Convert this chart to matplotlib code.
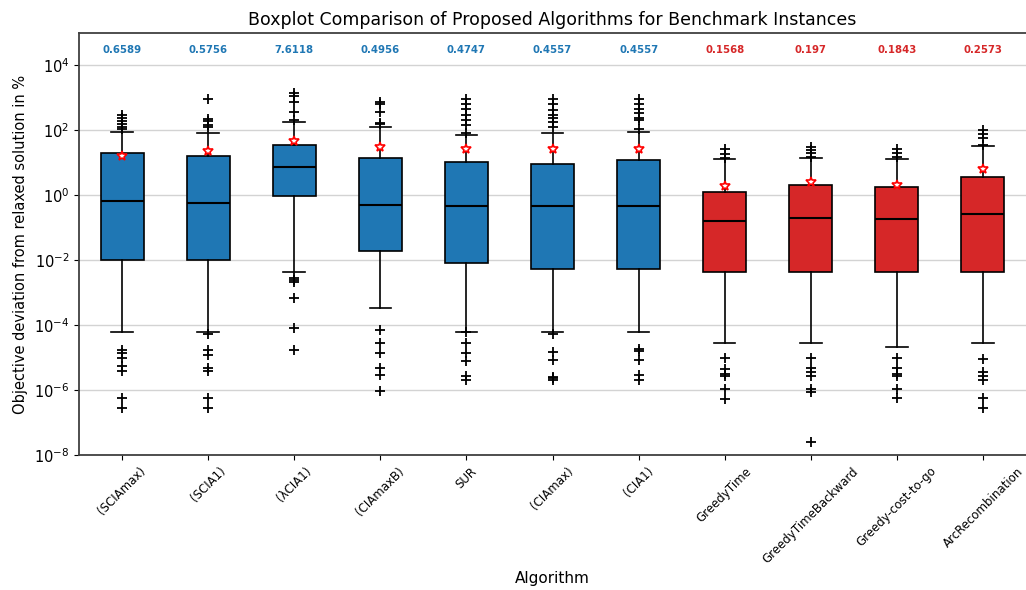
import matplotlib
matplotlib.use("Agg")
import matplotlib.pyplot as plt
from matplotlib.ticker import NullLocator

algorithms = ["(SCIAmax)", "(SCIA1)", "(λCIA1)", "(CIAmaxB)", "SUR", "(CIAmax)", "(CIA1)",
              "GreedyTime", "GreedyTimeBackward", "Greedy-cost-to-go", "ArcRecombination"]
group = ["blue"] * 7 + ["red"] * 4

medians = [0.6589, 0.5756, 7.6118, 0.4956, 0.4747, 0.4557, 0.4557, 0.1568, 0.197, 0.1843, 0.2573]
median_labels = ["0.6589", "0.5756", "7.6118", "0.4956", "0.4747", "0.4557", "0.4557",
                 "0.1568", "0.197", "0.1843", "0.2573"]
q1 = [0.0102, 0.0101, 0.95, 0.019, 0.0083, 0.0055, 0.0055, 0.0044, 0.0044, 0.0044, 0.0044]
q3 = [19.8, 16.2, 34.6, 14.4, 10.6, 9.4, 11.9, 1.26, 2.13, 1.8, 3.66]
whisker_low = [6.3e-5, 6.0e-5, 0.0044, 3.4e-4, 6.3e-5, 6.3e-5, 6.3e-5, 2.9e-5, 2.9e-5, 2.1e-5, 2.9e-5]
whisker_high = [88, 83, 180, 130, 72, 83, 91, 13.5, 14, 13.5, 32]
means = [16.5, 23, 46, 31.5, 26, 26, 26, 1.93, 2.56, 2.03, 6.3]

outliers = [
    [290, 234, 189, 153, 123, 107, 1.7e-5, 1.4e-5, 9.6e-6, 5.5e-6, 3.8e-6, 5.8e-7, 2.9e-7],
    [950, 218, 189, 150, 126, 5.5e-5, 1.7e-5, 1.2e-5, 4.9e-6, 3.9e-6, 5.8e-7, 2.9e-7],
    [1400, 1110, 745, 365, 203, 0.0029, 0.0025, 0.0022, 6.9e-4, 7.9e-5, 1.7e-5],
    [745, 630, 365, 167, 160, 7.0e-5, 2.9e-5, 1.35e-5, 4.7e-6, 3.0e-6, 9.3e-7],
    [900, 665, 443, 303, 214, 142, 83, 6.0e-5, 2.9e-5, 1.35e-5, 8.0e-6, 2.7e-6, 2.1e-6],
    [900, 630, 415, 290, 245, 180, 126, 5.5e-5, 1.5e-5, 8.3e-6, 2.6e-6, 2.3e-6, 2.1e-6],
    [900, 665, 465, 340, 245, 203, 107, 1.9e-5, 1.6e-5, 8.3e-6, 2.9e-6, 2.0e-6],
    [26, 19.2, 14.5, 9.5e-6, 4.4e-6, 3.2e-6, 2.8e-6, 1.05e-6, 5.5e-7],
    [30, 25.5, 20, 15.1, 9.5e-6, 4.9e-6, 3.6e-6, 2.8e-6, 1.1e-6, 8.6e-7, 2.5e-8],
    [26, 20, 15.1, 9.5e-6, 4.7e-6, 3.2e-6, 2.8e-6, 1.05e-6, 5.8e-7],
    [100, 75, 60, 34.6, 8.8e-6, 3.6e-6, 2.7e-6, 2.0e-6, 5.8e-7, 2.9e-7],
]

yticks = [1e-8, 1e-6, 1e-4, 1e-2, 1e0, 1e2, 1e4]
palette = {"blue": "#1f77b4", "red": "#d62728"}

stats = []
for i, name in enumerate(algorithms):
    stats.append(dict(label=name, med=medians[i], q1=q1[i], q3=q3[i],
                      whislo=whisker_low[i], whishi=whisker_high[i],
                      mean=means[i], fliers=outliers[i]))

fig = plt.figure(figsize=(10.26, 5.90), dpi=100)
ax = fig.add_axes([79 / 1026, 1 - 455 / 590, 947 / 1026, 422 / 590])

bp = ax.bxp(stats, widths=0.5, patch_artist=True, showmeans=True,
            boxprops=dict(edgecolor="black", linewidth=1.2),
            medianprops=dict(color="black", linewidth=1.5),
            whiskerprops=dict(color="black", linewidth=1.2),
            capprops=dict(color="black", linewidth=1.2),
            flierprops=dict(marker="+", markersize=7, markeredgecolor="black",
                            markeredgewidth=1.3),
            meanprops=dict(marker="*", markersize=7, markerfacecolor="white",
                           markeredgecolor="red", markeredgewidth=1.2))

for patch, g in zip(bp["boxes"], group):
    patch.set_facecolor(palette[g])

ax.set_yscale("log")
ax.set_ylim(1e-8, 1e5)
ax.set_xlim(0.5, len(algorithms) + 0.5)
ax.set_yticks(yticks)
ax.yaxis.set_minor_locator(NullLocator())
ax.yaxis.grid(True, color="#d3d3d3", linewidth=1)
ax.set_axisbelow(True)
for side in ("top", "left", "bottom"):
    ax.spines[side].set_color("#404040")
    ax.spines[side].set_linewidth(1.3)
ax.spines["right"].set_visible(False)

ax.set_xticks(range(1, len(algorithms) + 1))
ax.set_xticklabels(algorithms, rotation=45, ha="center", fontsize=8.5)
ax.tick_params(axis="y", labelsize=10.5)

for i, lbl in enumerate(median_labels):
    ax.text(i + 1, 0.96, lbl, transform=ax.get_xaxis_transform(),
            ha="center", va="center", fontsize=7.3, fontweight="bold",
            color=palette[group[i]])

ax.set_title("Boxplot Comparison of Proposed Algorithms for Benchmark Instances", fontsize=12.5)
ax.set_xlabel("Algorithm", fontsize=11)
ax.set_ylabel("Objective deviation from relaxed solution in %", fontsize=10.5)

fig.savefig("out.png", dpi=100)
